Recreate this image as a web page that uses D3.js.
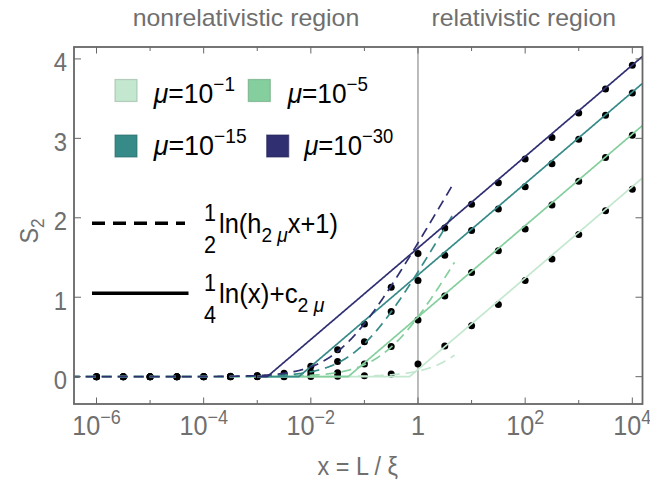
<!DOCTYPE html>
<html><head><meta charset="utf-8">
<script src="https://cdn.jsdelivr.net/npm/d3@7"></script>
<style>body{margin:0;background:#fff} svg{display:block} text{font-family:"Liberation Sans",Arial,sans-serif}</style>
</head><body><svg id="c" width="650" height="485"></svg>
<script>
// ---------- data ----------
const muExponents = ["−1", "−5", "−15", "−30"];
const seriesColors = ["#c3e7cf", "#84cf9d", "#368a88", "#2f2f72"];
// fitted parameters of the two analytic curves (per series)
const cCoef = [0.09, 0.75, 1.28, 1.62];   // 1/4 ln(x) + c
const hCoef = [0.15, 3.5, 13, 28];        // 1/2 ln(h x + 1)
// sample positions: log10(x)
const logX = [-6, -5.5, -5, -4.5, -4, -3.5, -3, -2.5, -2, -1.5, -1, -0.5, 0, 0.5, 1, 1.5, 2, 2.5, 3, 3.5, 4];
// numerical S2 values (dots)
const S_mu1  = [0, 0, 0, 0, 0, 0, 0, 0, 0.003, 0.006, 0.013, 0.035, 0.16, 0.386, 0.64, 0.91, 1.21, 1.48, 1.79, 2.09, 2.36];
const S_mu5  = [0, 0, 0, 0, 0, 0, 0.001, 0.005, 0.017, 0.05, 0.16, 0.38, 0.713, 1.015, 1.31, 1.585, 1.86, 2.16, 2.46, 2.76, 3.04];
const S_mu15 = [0, 0, 0, 0, 0, 0.002, 0.006, 0.02, 0.06, 0.19, 0.44, 0.82, 1.21, 1.53, 1.84, 2.11, 2.39, 2.68, 2.99, 3.29, 3.57];
const S_mu30 = [0, 0, 0, 0, 0.001, 0.004, 0.014, 0.042, 0.13, 0.34, 0.663, 1.125, 1.55, 1.87, 2.17, 2.44, 2.74, 3.01, 3.32, 3.62, 3.92];
const dotSeries = [S_mu1, S_mu5, S_mu15, S_mu30];
const xTickExp = [-6, -5, -4, -3, -2, -1, 0, 1, 2, 3, 4];
const xTickLabels = [["10", "−6"], null, ["10", "−4"], null, ["10", "−2"], null, ["1", ""], null, ["10", "2"], null, ["10", "4"]];
const yTicks = [0, 1, 2, 3, 4];
const yTickLabels = ["0", "1", "2", "3", "4"];

// ---------- layout ----------
const L = 74, R = 642.5, T = 47, B = 404;
const svg = d3.select("#c");
const x = d3.scaleLog().domain([Math.pow(10, -6.42), Math.pow(10, 4.19)]).range([L, R]);
const y = d3.scaleLinear().domain([-0.344, 4.15]).range([B, T]);
const axisCol = "#666", textCol = "#6f6f6f";

svg.append("defs").append("clipPath").attr("id", "clip")
  .append("rect").attr("x", L).attr("y", T).attr("width", R - L).attr("height", B - T);

function rich(parent, o) {
  const g = parent.append("g");
  const t = g.append("text").attr("font-size", o.size).attr("fill", o.fill || "#000");
  let prev = 0;
  o.parts.forEach(p => {
    const rise = p.rise || 0;
    t.append("tspan").attr("dy", prev - rise).attr("font-size", p.size || o.size)
      .attr("font-style", p.italic ? "italic" : null).text(p.t);
    prev = rise;
  });
  const bb = t.node().getBBox();
  const s = o.width ? o.width / bb.width : (o.sx || 1);
  const W = bb.width * s;
  const anchor = o.anchor || "start";
  const off = anchor === "middle" ? -W / 2 : anchor === "end" ? -W : 0;
  if (o.rotate) {
    g.attr("transform", `translate(${o.x},${o.y}) rotate(${o.rotate}) translate(${off - bb.x * s},0) scale(${s},1)`);
  } else {
    g.attr("transform", `translate(${o.x + off - bb.x * s},${o.y}) scale(${s},1)`);
  }
  return g;
}

// ---------- plot content ----------
const plot = svg.append("g").attr("clip-path", "url(#clip)");

// vertical reference line at x = 1
plot.append("line").attr("x1", x(1)).attr("x2", x(1)).attr("y1", T).attr("y2", B)
  .attr("stroke", "#777").attr("stroke-width", 1);

// dots
dotSeries.forEach(vals => {
  plot.append("g").selectAll("circle").data(vals).join("circle")
    .attr("cx", (d, i) => x(Math.pow(10, logX[i]))).attr("cy", d => y(d))
    .attr("r", 3.5).attr("fill", "#000");
});

const sampleLog = d3.range(-6.5, 4.3, 0.01);
const line = d3.line().x(d => x(d[0])).y(d => y(d[1]));
seriesColors.forEach((col, k) => {
  // solid: 1/4 ln x + c, clipped at 0
  const solid = sampleLog.filter(l => l >= -3).map(l => {
    const xv = Math.pow(10, l);
    return [xv, Math.max(0, 0.25 * Math.log(xv) + cCoef[k])];
  });
  plot.append("path").attr("d", line(solid)).attr("fill", "none")
    .attr("stroke", col).attr("stroke-width", 1.7);
  // dashed: 1/2 ln(h x + 1)
  const dashed = sampleLog.filter(l => l <= 0.69).map(l => {
    const xv = Math.pow(10, l);
    return [xv, 0.5 * Math.log(hCoef[k] * xv + 1)];
  });
  plot.append("path").attr("d", line(dashed)).attr("fill", "none")
    .attr("stroke", col).attr("stroke-width", 1.7).attr("stroke-dasharray", "10,6");
});

// ---------- frame & ticks ----------
svg.append("rect").attr("x", L).attr("y", T).attr("width", R - L).attr("height", B - T)
  .attr("fill", "none").attr("stroke", axisCol).attr("stroke-width", 1.8);

xTickExp.forEach((e, i) => {
  const px = x(Math.pow(10, e));
  const len = xTickLabels[i] ? 6.5 : 4;
  svg.append("line").attr("x1", px).attr("x2", px).attr("y1", B).attr("y2", B - len).attr("stroke", axisCol).attr("stroke-width", 1);
  svg.append("line").attr("x1", px).attr("x2", px).attr("y1", T).attr("y2", T + len).attr("stroke", axisCol).attr("stroke-width", 1);
  const lab = xTickLabels[i];
  if (lab) {
    const parts = [{ t: lab[0] }];
    if (lab[1]) parts.push({ t: lab[1], rise: 11, size: 20 });
    rich(svg, { x: px, y: 435, parts, size: 28, anchor: "middle", sx: 0.9, fill: textCol });
  }
});
yTicks.forEach((v, i) => {
  const py = y(v);
  svg.append("line").attr("x1", L).attr("x2", L + 7).attr("y1", py).attr("y2", py).attr("stroke", axisCol).attr("stroke-width", 1);
  svg.append("line").attr("x1", R).attr("x2", R - 7).attr("y1", py).attr("y2", py).attr("stroke", axisCol).attr("stroke-width", 1);
  rich(svg, { x: 67, y: py + 12.4, parts: [{ t: yTickLabels[i] }], size: 26, anchor: "end", sx: 0.92, fill: textCol });
});

// axis labels
rich(svg, { x: 358, y: 475, parts: [{ t: "x = L / ξ" }], size: 26, anchor: "middle", sx: 0.9, fill: textCol });
rich(svg, { x: 38, y: 231, parts: [{ t: "S" }, { t: "2", rise: -6, size: 19 }], size: 26, anchor: "middle", sx: 0.9, fill: textCol, rotate: -90 });

// region titles
rich(svg, { x: 132.7, y: 25.7, parts: [{ t: "nonrelativistic region" }], size: 23, width: 226.7, fill: textCol });
rich(svg, { x: 431.5, y: 25.7, parts: [{ t: "relativistic region" }], size: 23, width: 184.6, fill: textCol });

// ---------- legend ----------
const legPos = [[115, 79.5, 152.7, 103.3, 82.3], [248.3, 79.5, 286.7, 103.3, 81.3], [115, 135, 152.7, 155.3, 94], [266.7, 135, 303.3, 155.3, 90]];
seriesColors.forEach((col, k) => {
  const p = legPos[k];
  svg.append("rect").attr("x", p[0]).attr("y", p[1]).attr("width", 22).attr("height", 22)
    .attr("fill", col).attr("stroke", d3.color(col).darker(0.7)).attr("stroke-width", 1.2).attr("stroke-opacity", 0.6);
  rich(svg, { x: p[2], y: p[3], parts: [{ t: "μ", italic: true }, { t: "=10" }, { t: muExponents[k], rise: 12.5, size: 20 }], size: 28, width: p[4], fill: "#000" });
});

// line style legend
svg.append("line").attr("x1", 92).attr("x2", 185).attr("y1", 223.3).attr("y2", 223.3)
  .attr("stroke", "#000").attr("stroke-width", 3.6).attr("stroke-dasharray", "13,8");
svg.append("line").attr("x1", 92).attr("x2", 188.5).attr("y1", 293.3).attr("y2", 293.3)
  .attr("stroke", "#000").attr("stroke-width", 3.6);

function frac(cx, yNum, yDen, num, den) {
  rich(svg, { x: cx, y: yNum, parts: [{ t: num }], size: 24, anchor: "middle", sx: 0.9 });
  rich(svg, { x: cx, y: yDen, parts: [{ t: den }], size: 24, anchor: "middle", sx: 0.9 });
}
frac(210, 221, 253, "1", "2");
rich(svg, { x: 219, y: 233.3, parts: [{ t: "ln(h" }, { t: "2 ", rise: -8.5, size: 21 }, { t: "μ", rise: -8.5, size: 21, italic: true }, { t: "x+1)" }], size: 28, width: 119 });
frac(210, 291, 323, "1", "4");
rich(svg, { x: 219, y: 303.3, parts: [{ t: "ln(x)+c" }, { t: "2 ", rise: -8.5, size: 21 }, { t: "μ", rise: -8.5, size: 21, italic: true }], size: 28, width: 106 });
</script></body></html>
